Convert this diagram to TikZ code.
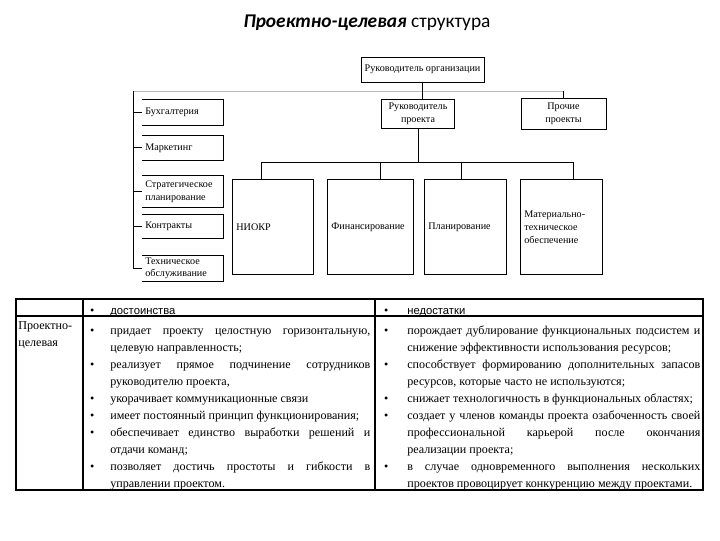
\documentclass[tikz,border=0pt]{standalone}
\usepackage{fontspec}
\setmainfont{Liberation Serif}
\newfontfamily\titlefont{Carlito}
\newfontfamily\headfont{Liberation Sans}
\usepackage{tikz}
\usetikzlibrary{calc}
\newcommand{\chartfont}{\fontsize{7.2}{9.2}\selectfont}
\newcommand{\tablefont}{\fontsize{8.6}{12.09}\selectfont\hyphenpenalty=10000\tolerance=10000}
\newenvironment{cellitems}[2]{\setlength{\linewidth}{\hsize}\begin{list}{\textbullet}{%
  \setlength{\leftmargin}{#1}\setlength{\labelsep}{#2}%
  \setlength{\labelwidth}{\dimexpr#1-#2\relax}%
  \setlength{\rightmargin}{0pt}%
  \setlength{\itemsep}{0pt}\setlength{\parsep}{0pt}%
  \setlength{\topsep}{0pt}\setlength{\partopsep}{0pt}}}{\end{list}}

\begin{document}
\begin{tikzpicture}[
    x=0.025cm, y=-0.025cm,
    topbox/.style={draw, line width=0.6pt, align=center, inner sep=0pt, font=\chartfont},
    sidebox/.style={anchor=north west, minimum width=2.025cm, text width=1.875cm, align=left, inner xsep=0.075cm, inner ysep=0pt, font=\chartfont},
    deptbox/.style={draw, line width=0.6pt, anchor=north west, minimum height=2.375cm, text width=#1, align=left, inner xsep=0.1cm, font=\chartfont},
    link/.style={line width=0.6pt},
    cell/.style={anchor=north west, inner sep=0pt, font=\tablefont},
    listcell/.style={cell, text width=#1, align=justify},
]
    \useasboundingbox (0,0) rectangle (720,540);

    % Title
    \node[font=\titlefont\fontsize{13.8}{16}\selectfont] (title) at (367,23) {\textbf{\textit{Проектно-целевая}} структура};

    % Top level
    \node[topbox, minimum width=3.075cm, minimum height=0.625cm] (org) at (422.5,69.5) {Руководитель организации};
    \node[topbox, minimum width=1.825cm, minimum height=0.725cm] (rp) at (418,113.5) {Руководитель\\проекта};
    \node[topbox, minimum width=2.125cm, minimum height=0.775cm] (proch) at (563.5,113.5) {Прочие\\проекты};

    % Functional units on the left
    \node[sidebox, minimum height=0.65cm] (buh) at (142,99) {Бухгалтерия};
    \node[sidebox, minimum height=0.625cm] (mark) at (142,135) {Маркетинг};
    \node[sidebox, minimum height=0.8cm] (strat) at (142,175) {Стратегическое\\планирование};
    \node[sidebox, minimum height=0.6cm] (kontr) at (142,214) {Контракты};
    \node[sidebox, minimum height=0.65cm] (tech) at (142,255) {Техническое\\обслуживание};

    % Project groups
    \node[deptbox=1.825cm] (niokr) at (232,179) {НИОКР};
    \node[deptbox=1.95cm] (fin) at (327,179) {Финансирование};
    \node[deptbox=1.85cm] (plan) at (424,179) {Планирование};
    \node[deptbox=1.85cm] (mat) at (520,179) {Материально-\\техническое\\обеспечение};

    % Links
    \coordinate (spine) at (133,91);
    \coordinate (d1) at (261,162);
    \coordinate (d2) at (380,162);
    \coordinate (d3) at (461,162);
    \coordinate (d4) at (573,162);
    \draw[gray!55, line width=0.6pt] (spine) -- (spine -| proch.north);
    \draw[link] (spine -| proch.north) -- (proch.north);
    \draw[link] (org.south) -- (org.south |- rp.north);
    \draw[link] (spine) -- (spine |- tech.west);
    \foreach \b in {buh,mark,strat,kontr,tech} {
        \draw[link] (\b.north west) -- (\b.north east) -- (\b.south east) -- (\b.south west);
        \draw[link] (spine |- \b.west) -- (\b.west);
    }
    \draw[link] (rp.south) -- (rp.south |- d1);
    \draw[link] (d1) -- (d4);
    \foreach \d/\b in {d1/niokr,d2/fin,d3/plan,d4/mat}
        \draw[link] (\d) -- (\d |- \b.north);

    % Table
    \draw[line width=0.8pt] (16,299) rectangle (703,490);
    \draw[line width=0.8pt] (16,316) -- (703,316);
    \draw[line width=0.8pt] (83,299) -- (83,490);
    \draw[line width=0.8pt] (375,299) -- (375,490);

    \node[cell, align=left] (kind) at (18,317) {\strut Проектно-\\целевая};
    \node[listcell=7.175cm] (proshead) at (83,297.6) {\begin{cellitems}{0.675cm}{0.4cm}\item\strut{\headfont\fontsize{8}{10}\selectfont достоинства}\end{cellitems}};
    \node[listcell=8.125cm] (conshead) at (375,297.6) {\begin{cellitems}{0.8cm}{0.475cm}\item\strut{\headfont\fontsize{8}{10}\selectfont недостатки}\end{cellitems}};

    \node[listcell=7.175cm] (pros) at (83,317) {\begin{cellitems}{0.675cm}{0.4cm}
        \item\strut придает проекту целостную горизонтальную,\linebreak целевую направленность;
        \item реализует прямое подчинение сотрудников\linebreak руководителю проекта,
        \item укорачивает коммуникационные связи
        \item имеет постоянный принцип функционирования;
        \item обеспечивает единство выработки решений и\linebreak отдачи команд;
        \item позволяет достичь простоты и гибкости в\linebreak управлении проектом.
    \end{cellitems}};
    \node[listcell=8.125cm] (cons) at (375,317) {\begin{cellitems}{0.8cm}{0.475cm}
        \item\strut порождает дублирование функциональных подсистем и\linebreak снижение эффективности использования ресурсов;
        \item способствует формированию дополнительных запасов\linebreak ресурсов, которые часто не используются;
        \item снижает технологичность в функциональных областях;
        \item создает у членов команды проекта озабоченность своей\linebreak профессиональной карьерой после окончания\linebreak реализации проекта;
        \item в случае одновременного выполнения нескольких\linebreak проектов провоцирует конкуренцию между проектами.
    \end{cellitems}};
\end{tikzpicture}
\end{document}
